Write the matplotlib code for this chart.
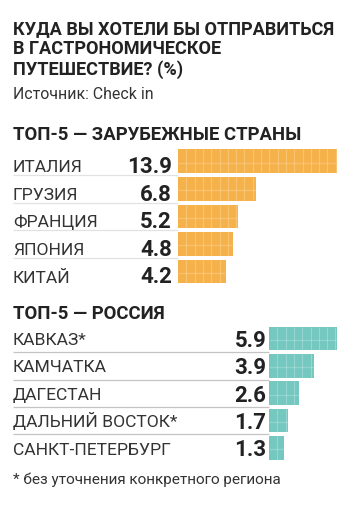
import numpy as np
import matplotlib
matplotlib.use("Agg")
import matplotlib.pyplot as plt

plt.rcParams['font.family'] = ['Roboto', 'DejaVu Sans']

title_lines = ["КУДА ВЫ ХОТЕЛИ БЫ ОТПРАВИТЬСЯ", "В ГАСТРОНОМИЧЕСКОЕ", "ПУТЕШЕСТВИЕ? (%)"]
source = "Источник: Check in"
footnote = "* без уточнения конкретного региона"

abroad_title = "ТОП-5 — ЗАРУБЕЖНЫЕ СТРАНЫ"
abroad = ["ИТАЛИЯ", "ГРУЗИЯ", "ФРАНЦИЯ", "ЯПОНИЯ", "КИТАЙ"]
abroad_vals = [13.9, 6.8, 5.2, 4.8, 4.2]

russia_title = "ТОП-5 — РОССИЯ"
russia = ["КАВКАЗ*", "КАМЧАТКА", "ДАГЕСТАН", "ДАЛЬНИЙ ВОСТОК*", "САНКТ-ПЕТЕРБУРГ"]
russia_vals = [5.9, 3.9, 2.6, 1.7, 1.3]

W, H = 350, 524
PX_PER_UNIT = 11.45
TXT = "#222222"

fig = plt.figure(figsize=(W / 100, H / 100), dpi=100)
fig.patch.set_facecolor("white")


def fx(x):
    return x / W


def fy(y):
    return 1 - y / H


def panel(zero_px, top_px, bottom_px, names, vals, color, grid_color,
          lab_off, val_off, val_gap, sep_color):
    left_px, right_px = 13, 345
    ax = fig.add_axes([fx(left_px), fy(bottom_px),
                       (right_px - left_px) / W, (bottom_px - top_px) / H])
    ax.set_xlim(-(zero_px - left_px) / PX_PER_UNIT, (right_px - zero_px) / PX_PER_UNIT)
    ax.set_ylim(len(vals) - 0.5, -0.5)
    ax.axis("off")
    y = np.arange(len(vals))
    hgt = 0.86
    ax.barh(y, vals, height=hgt, color=color, edgecolor="none", zorder=2)

    # cell texture inside the bars
    step = 0.725
    for i, v in enumerate(vals):
        xs = np.arange(step, v, step)
        ax.vlines(xs, i - hgt / 2, i + hgt / 2, color=grid_color, lw=0.8,
                  alpha=0.38, zorder=3)
        ax.hlines(i + 0.05, 0, v, color=grid_color, lw=1.0, alpha=0.3, zorder=3)

    x0 = ax.get_xlim()[0]
    for i, (n, v) in enumerate(zip(names, vals)):
        ax.text(x0, i + lab_off, n, fontsize=12.6, color="#333333",
                ha="left", va="baseline")
        ax.text(-val_gap / PX_PER_UNIT, i + val_off, f"{v:.1f}", fontsize=16,
                fontweight="bold", color=TXT, ha="right", va="baseline")
    ax.hlines(y[:-1] + 0.5, x0, 0, color=sep_color, lw=0.9, zorder=1)
    return ax


for k, line in enumerate(title_lines):
    fig.text(fx(13), fy(34 + 20.5 * k), line, fontsize=13.1, fontweight="bold",
             color=TXT, ha="left", va="baseline")
fig.text(fx(13), fy(99), source, fontsize=11.4, color="#333333",
         ha="left", va="baseline")

fig.text(fx(13), fy(140), abroad_title, fontsize=13.3, fontweight="bold",
         color=TXT, ha="left", va="baseline")
panel(178, 147.4, 285.4, abroad, abroad_vals, "#f6b24a", "#fde3b5",
      0.40, 0.43, 6, "#e2e2e2")

fig.text(fx(13), fy(319), russia_title, fontsize=13.3, fontweight="bold",
         color=TXT, ha="left", va="baseline")
panel(269, 324.8, 461.7, russia, russia_vals, "#74c8c0", "#d2efec",
      0.24, 0.31, 2.5, "#c4c4c4")

fig.text(fx(13), fy(484), footnote, fontsize=11, color="#333333",
         ha="left", va="baseline")

fig.savefig("out.png", dpi=100, facecolor="white")
